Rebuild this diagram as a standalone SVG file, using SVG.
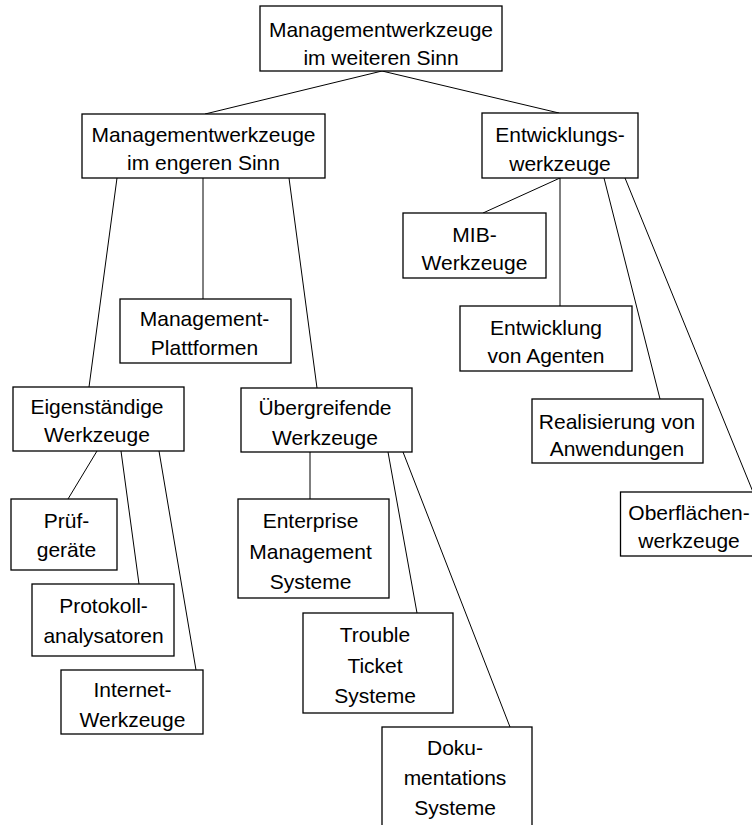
<svg xmlns="http://www.w3.org/2000/svg" width="752" height="825" viewBox="0 0 752 825">
<style>
  rect { fill: #ffffff; stroke: #000000; stroke-width: 1.3; }
  text { font-family: "Liberation Sans", Arial, sans-serif; font-size: 21px; fill: #000000; text-anchor: middle; }
  #connectors line { stroke: #000000; stroke-width: 1; }
</style>
<rect x="0" y="0" width="752" height="825" style="stroke:none"/>
<g id="connectors">
  <line x1="382" y1="71" x2="205" y2="114"/>
  <line x1="382" y1="71" x2="559" y2="113"/>
  <line x1="117" y1="178" x2="89" y2="387"/>
  <line x1="203" y1="178" x2="203" y2="299"/>
  <line x1="289" y1="178" x2="317" y2="388"/>
  <line x1="97" y1="451" x2="68" y2="499"/>
  <line x1="121" y1="451" x2="139" y2="584"/>
  <line x1="159" y1="451" x2="196" y2="670"/>
  <line x1="310" y1="452" x2="310" y2="499"/>
  <line x1="388" y1="452" x2="417" y2="613"/>
  <line x1="403" y1="452" x2="510" y2="727"/>
  <line x1="560" y1="178" x2="483" y2="213"/>
  <line x1="560" y1="178" x2="560" y2="306"/>
  <line x1="604" y1="178" x2="660" y2="399"/>
  <line x1="625" y1="178" x2="753" y2="492"/>
</g>
<g id="n_top">
  <rect x="260" y="6" width="242" height="65"/>
  <text x="381" y="37">Managementwerkzeuge</text>
  <text x="381" y="64.5">im weiteren Sinn</text>
</g>
<g id="n_engeren">
  <rect x="82" y="114" width="243" height="64"/>
  <text x="203.5" y="142">Managementwerkzeuge</text>
  <text x="203.5" y="170">im engeren Sinn</text>
</g>
<g id="n_entwicklungswerkzeuge">
  <rect x="482" y="113" width="156" height="65"/>
  <text x="560" y="142">Entwicklungs-</text>
  <text x="560" y="171">werkzeuge</text>
</g>
<g id="n_plattformen">
  <rect x="120" y="299" width="171" height="64"/>
  <text x="204.5" y="325.5">Management-</text>
  <text x="204.5" y="355">Plattformen</text>
</g>
<g id="n_eigenstaendige">
  <rect x="13" y="387" width="171" height="64"/>
  <text x="97" y="413.5">Eigenständige</text>
  <text x="97" y="442">Werkzeuge</text>
</g>
<g id="n_uebergreifende">
  <rect x="241" y="388" width="171" height="64"/>
  <text x="325" y="415">Übergreifende</text>
  <text x="325" y="445">Werkzeuge</text>
</g>
<g id="n_pruef">
  <rect x="11" y="499" width="106" height="71"/>
  <text x="66.5" y="527.5">Prüf-</text>
  <text x="66.5" y="557">geräte</text>
</g>
<g id="n_protokoll">
  <rect x="32" y="584" width="142" height="72"/>
  <text x="103.5" y="613">Protokoll-</text>
  <text x="103.5" y="643">analysatoren</text>
</g>
<g id="n_internet">
  <rect x="61" y="670" width="142" height="64"/>
  <text x="132.5" y="697">Internet-</text>
  <text x="132.5" y="727">Werkzeuge</text>
</g>
<g id="n_enterprise">
  <rect x="238" y="499" width="151" height="99"/>
  <text x="310.5" y="527.5">Enterprise</text>
  <text x="310.5" y="558.5">Management</text>
  <text x="310.5" y="588.5">Systeme</text>
</g>
<g id="n_trouble">
  <rect x="303" y="613" width="150" height="100"/>
  <text x="375" y="642">Trouble</text>
  <text x="375" y="672.5">Ticket</text>
  <text x="375" y="703">Systeme</text>
</g>
<g id="n_doku">
  <rect x="382" y="727" width="150" height="110"/>
  <text x="455" y="755">Doku-</text>
  <text x="455" y="785">mentations</text>
  <text x="455" y="815">Systeme</text>
</g>
<g id="n_mib">
  <rect x="403" y="213" width="143" height="65"/>
  <text x="474.5" y="242">MIB-</text>
  <text x="474.5" y="270">Werkzeuge</text>
</g>
<g id="n_agenten">
  <rect x="460" y="306" width="172" height="65"/>
  <text x="546" y="335">Entwicklung</text>
  <text x="546" y="363">von Agenten</text>
</g>
<g id="n_realisierung">
  <rect x="532" y="399" width="171" height="64"/>
  <text x="617" y="428.5">Realisierung von</text>
  <text x="617" y="456">Anwendungen</text>
</g>
<g id="n_oberflaechen">
  <rect x="620.5" y="492" width="140" height="64"/>
  <text x="689" y="519.5">Oberflächen-</text>
  <text x="689" y="547.5">werkzeuge</text>
</g>
</svg>
